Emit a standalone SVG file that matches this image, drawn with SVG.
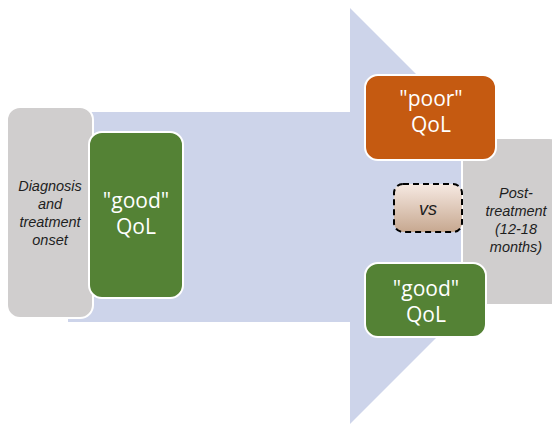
<svg xmlns="http://www.w3.org/2000/svg" width="552" height="424" viewBox="0 0 552 424">
  <defs>
    <linearGradient id="vsFill" x1="0" y1="0" x2="0" y2="1">
      <stop offset="0" stop-color="#F6E9E2"/>
      <stop offset="1" stop-color="#C7A890"/>
    </linearGradient>
  </defs>
  <style>
    .box-gray { fill: #D0CECE; stroke: #FFFFFF; stroke-width: 2; }
    .box-green { fill: #548235; stroke: #FFFFFF; stroke-width: 2; }
    .box-orange { fill: #C55A11; stroke: #FFFFFF; stroke-width: 2; }
    .box-vs { fill: url(#vsFill); stroke: #000000; stroke-width: 2; stroke-dasharray: 6 4; }
    .label-white { font-family: "Open Sans", "Liberation Sans", sans-serif; font-size: 21px; fill: #FFFFFF; text-anchor: middle; }
    .label-note { font-family: "Liberation Sans", "Open Sans", sans-serif; font-size: 14.5px; font-style: italic; fill: #1E1E1E; text-anchor: middle; }
  </style>

  <!-- big background arrow -->
  <g id="connectors">
    <path d="M68 112 H350 V8 L558 216 L350 424 V322 H68 Z" fill="#CDD4EA"/>
  </g>

  <g id="node-diagnosis">
    <rect class="box-gray" x="7" y="107" width="86" height="211" rx="13"/>
    <text class="label-note" x="50" y="191">Diagnosis</text>
    <text class="label-note" x="50" y="209">and</text>
    <text class="label-note" x="50" y="227">treatment</text>
    <text class="label-note" x="50" y="245">onset</text>
  </g>

  <g id="node-good-start">
    <rect class="box-green" x="89" y="132" width="94" height="166" rx="13"/>
    <text class="label-white" x="136" y="208">"good"</text>
    <text class="label-white" x="136" y="234">QoL</text>
  </g>

  <g id="node-post">
    <rect class="box-gray" x="462" y="138" width="100" height="167" rx="13"/>
    <text class="label-note" x="516" y="198">Post-</text>
    <text class="label-note" x="516" y="216">treatment</text>
    <text class="label-note" x="516" y="234">(12-18</text>
    <text class="label-note" x="516" y="252">months)</text>
  </g>

  <g id="node-poor">
    <rect class="box-orange" x="365" y="75" width="131" height="85" rx="13"/>
    <text class="label-white" x="431" y="106">"poor"</text>
    <text class="label-white" x="431" y="132">QoL</text>
  </g>

  <g id="node-vs">
    <rect class="box-vs" x="394" y="184" width="68" height="48" rx="9"/>
    <text class="label-note" x="428" y="215" style="font-size:18px">vs</text>
  </g>

  <g id="node-good-end">
    <rect class="box-green" x="365" y="263" width="121" height="74" rx="13"/>
    <text class="label-white" x="426" y="296">"good"</text>
    <text class="label-white" x="426" y="322">QoL</text>
  </g>
</svg>
